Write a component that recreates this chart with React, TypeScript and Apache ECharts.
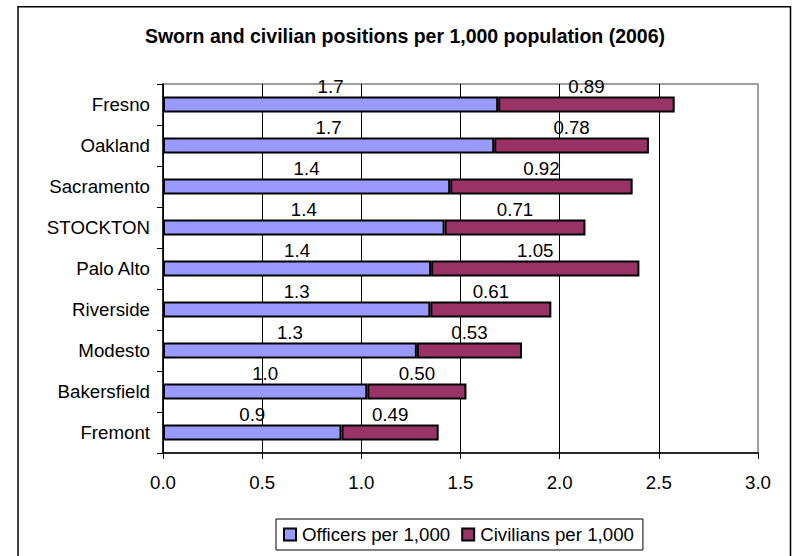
import React, { useEffect, useRef } from "react";
import * as echarts from "echarts";

const cities = ["Fresno", "Oakland", "Sacramento", "STOCKTON", "Palo Alto", "Riverside", "Modesto", "Bakersfield", "Fremont"];
const officers = [1.69, 1.67, 1.448, 1.42, 1.352, 1.348, 1.28, 1.03, 0.9];
const civilians = [0.89, 0.78, 0.92, 0.71, 1.05, 0.61, 0.53, 0.5, 0.49];
const seriesNames = ["Officers per 1,000", "Civilians per 1,000"];
const titleText = "Sworn and civilian positions per 1,000 population (2006)";

const FONT = 'Arial, "Liberation Sans", sans-serif';
const FS = 18.7;

export default function App() {
  const ref = useRef<HTMLDivElement>(null);
  useEffect(() => {
    if (!ref.current) return;
    const chart = echarts.init(ref.current, undefined, { renderer: "svg" });
    const labelStyle = {
      show: true,
      position: "top" as const,
      distance: 1,
      color: "#000",
      fontFamily: FONT,
      fontSize: FS,
    };
    chart.setOption({
      animation: false,
      backgroundColor: "#fff",
      textStyle: { fontFamily: FONT },
      graphic: [
        {
          type: "rect",
          shape: { x: 18, y: 6.7, width: 772.5, height: 600 },
          style: { fill: "none", stroke: "#000", lineWidth: 1.5 },
          silent: true,
        },
        {
          type: "text",
          x: 405,
          y: 35.5,
          style: {
            text: titleText,
            fontFamily: FONT,
            fontSize: 19.5,
            fontWeight: "bold",
            fill: "#000",
            align: "center",
            verticalAlign: "middle",
          },
        },
      ],
      grid: {
        left: 163,
        top: 84,
        right: 41,
        bottom: 103,
        show: true,
        borderColor: "#808080",
        borderWidth: 1.5,
        backgroundColor: "transparent",
      },
      legend: {
        data: seriesNames,
        left: 276,
        top: 519,
        orient: "horizontal",
        padding: [6, 9, 6, 7],
        itemGap: 11,
        itemWidth: 12,
        itemHeight: 12,
        borderColor: "#000",
        borderWidth: 1,
        icon: "rect",
        itemStyle: { borderColor: "#000", borderWidth: 2 },
        textStyle: { fontFamily: FONT, fontSize: FS, color: "#000", padding: [0, 0, 0, 1] },
      },
      xAxis: {
        type: "value",
        min: 0,
        max: 3,
        interval: 0.5,
        axisLine: { show: true, lineStyle: { color: "#000", width: 1.5 } },
        axisTick: { show: true, length: 6, lineStyle: { color: "#000", width: 1 } },
        axisLabel: {
          color: "#000",
          fontFamily: FONT,
          fontSize: FS,
          margin: 20,
          formatter: (v: number) => v.toFixed(1),
        },
        splitLine: { show: true, showMaxLine: false, lineStyle: { color: "#000", width: 1 } },
      },
      yAxis: {
        type: "category",
        data: cities,
        inverse: true,
        axisLine: { show: true, lineStyle: { color: "#000", width: 1.5 } },
        axisTick: { show: true, length: 6, lineStyle: { color: "#000", width: 1 } },
        axisLabel: { color: "#000", fontFamily: FONT, fontSize: FS, margin: 13 },
        splitLine: { show: false },
      },
      series: [
        {
          name: seriesNames[0],
          type: "bar",
          stack: "total",
          data: officers,
          barWidth: 16,
          itemStyle: { color: "#9999FF", borderColor: "#000", borderWidth: 2 },
          label: { ...labelStyle, formatter: (p: any) => Number(p.value).toFixed(1) },
        },
        {
          name: seriesNames[1],
          type: "bar",
          stack: "total",
          data: civilians,
          barWidth: 16,
          itemStyle: { color: "#993366", borderColor: "#000", borderWidth: 2 },
          label: { ...labelStyle, formatter: (p: any) => Number(p.value).toFixed(2) },
        },
      ],
    });
    return () => chart.dispose();
  }, []);
  return (
    <div
      ref={ref}
      style={{ position: "fixed", left: 0, top: 0, width: 799, height: 556, background: "#fff" }}
    />
  );
}
